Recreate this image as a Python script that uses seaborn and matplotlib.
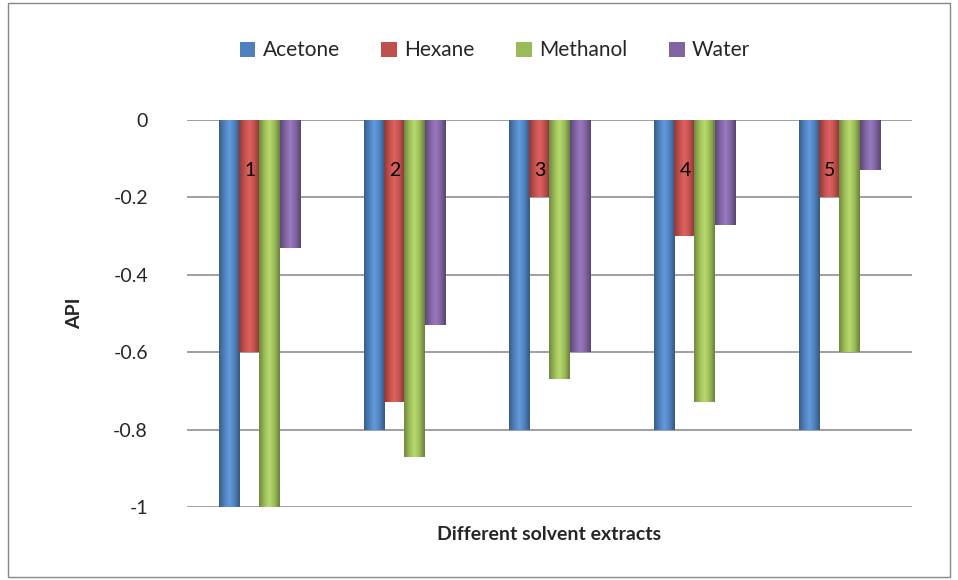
import matplotlib
matplotlib.use("Agg")
import matplotlib.pyplot as plt
import numpy as np
import pandas as pd
import seaborn as sns
from matplotlib.colors import LinearSegmentedColormap
from matplotlib.patches import Rectangle

extracts = ["1", "2", "3", "4", "5"]
acetone = [-1.0, -0.80, -0.80, -0.80, -0.80]
hexane = [-0.60, -0.73, -0.20, -0.30, -0.20]
methanol = [-1.0, -0.87, -0.67, -0.73, -0.60]
water = [-0.33, -0.53, -0.60, -0.27, -0.13]

solvents = ["Acetone", "Hexane", "Methanol", "Water"]
colors = ["#4F81BD", "#C0504D", "#9BBB59", "#8064A2"]
yticks = [0, -0.2, -0.4, -0.6, -0.8, -1]
ytick_labels = ["0", "-0.2", "-0.4", "-0.6", "-0.8", "-1"]

df = pd.DataFrame({
    "extract": extracts * 4,
    "solvent": [s for s in solvents for _ in extracts],
    "api": acetone + hexane + methanol + water,
})

sns.set_theme(style="white")
plt.rcParams["font.family"] = ["Lato", "DejaVu Sans"]
plt.rcParams["axes.unicode_minus"] = False

fig = plt.figure(figsize=(9.58, 5.8), dpi=100)
ax = fig.add_axes([0.195, 0.126, 0.757, 0.667])

sns.barplot(data=df, x="extract", y="api", hue="solvent", palette=colors,
            width=0.56, ax=ax, edgecolor="none", saturation=1, legend=True)

ax.set_ylim(-1, 0)
ax.set_xlim(-0.5, 4.5)

# cylinder-like shading: horizontal gradient clipped to each bar
grad = np.linspace(0, 1, 64).reshape(1, -1)
for patch in list(ax.patches):
    if patch.get_height() == 0:
        continue
    fc = np.array(patch.get_facecolor()[:3])
    dark = fc * 0.72
    light = np.minimum(fc * 1.12 + 0.04, 1)
    cmap = LinearSegmentedColormap.from_list(
        "cyl", [dark, fc, light, fc, dark * 0.95])
    x0, y0 = patch.get_x(), patch.get_y()
    w, h = patch.get_width(), patch.get_height()
    im = ax.imshow(grad, cmap=cmap, aspect="auto", interpolation="bicubic",
                   extent=(x0, x0 + w, y0, y0 + h), zorder=patch.get_zorder() + 0.1)
    im.set_clip_path(patch)
ax.set_xlim(-0.5, 4.5)
ax.set_ylim(-1, 0)

ax.set_yticks(yticks)
ax.set_yticklabels(ytick_labels, fontsize=14)
ax.tick_params(axis="y", pad=28, length=0)
ax.set_xticks([])
ax.set_xlabel("Different solvent extracts", fontsize=14, fontweight="bold", labelpad=14)
ax.set_ylabel("API", fontsize=14, fontweight="bold", labelpad=22)
ax.yaxis.grid(True, color="#999999", linewidth=1.3)
ax.set_axisbelow(True)
for side in ["top", "right", "left", "bottom"]:
    ax.spines[side].set_visible(False)

# category labels inside the groups
for i, lab in enumerate(extracts):
    ax.text(i - 0.065, -0.13, lab, ha="center", va="center", fontsize=14,
            color="black", zorder=10)

ax.legend(loc="center", bbox_to_anchor=(0.425, 1.18), ncol=4, frameon=False,
          fontsize=15, handlelength=0.75, handleheight=0.75, handletextpad=0.35,
          columnspacing=2.0)

fig.patches.append(Rectangle((0.008, 0.005), 0.984, 0.99, transform=fig.transFigure,
                             fill=False, edgecolor="#888888", linewidth=1.0))

fig.savefig("out.png", dpi=100, facecolor="white")
